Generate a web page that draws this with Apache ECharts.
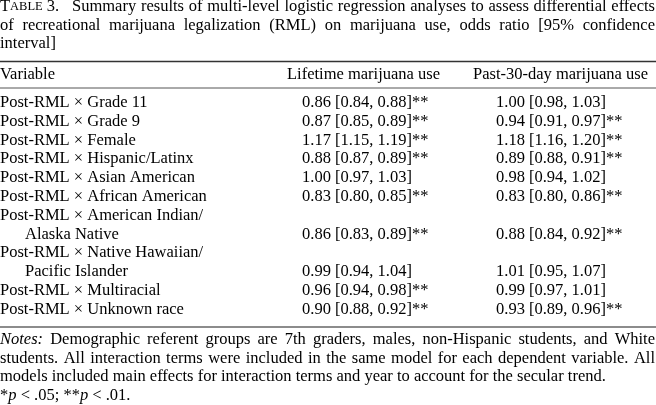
<!DOCTYPE html>
<html>
<head>
<meta charset="utf-8">
<title>Table 3</title>
<script src="https://cdn.jsdelivr.net/npm/echarts@6/dist/echarts.min.js"></script>
<style>
    html, body { margin: 0; padding: 0; background: #fff; }
    #main { width: 656px; height: 405px; }
</style>
</head>
<body>
<div id="main"></div>
<script>
// row labels (a second entry is the indented continuation line)
var variables = [
    ['Post-RML × Grade 11'],
    ['Post-RML × Grade 9'],
    ['Post-RML × Female'],
    ['Post-RML × Hispanic/Latinx'],
    ['Post-RML × Asian American'],
    ['Post-RML × African American'],
    ['Post-RML × American Indian/', 'Alaska Native'],
    ['Post-RML × Native Hawaiian/', 'Pacific Islander'],
    ['Post-RML × Multiracial'],
    ['Post-RML × Unknown race']
];
var columns = ['Variable', 'Lifetime marijuana use', 'Past-30-day marijuana use'];

var lifetimeOR  = [0.86, 0.87, 1.17, 0.88, 1.00, 0.83, 0.86, 0.99, 0.96, 0.90];
var lifetimeLo  = [0.84, 0.85, 1.15, 0.87, 0.97, 0.80, 0.83, 0.94, 0.94, 0.88];
var lifetimeHi  = [0.88, 0.89, 1.19, 0.89, 1.03, 0.85, 0.89, 1.04, 0.98, 0.92];
var lifetimeSig = ['**', '**', '**', '**', '', '**', '**', '', '**', '**'];

var past30OR  = [1.00, 0.94, 1.18, 0.89, 0.98, 0.83, 0.88, 1.01, 0.99, 0.93];
var past30Lo  = [0.98, 0.91, 1.16, 0.88, 0.94, 0.80, 0.84, 0.95, 0.97, 0.89];
var past30Hi  = [1.03, 0.97, 1.20, 0.91, 1.02, 0.86, 0.92, 1.07, 1.01, 0.96];
var past30Sig = ['', '**', '**', '**', '', '**', '**', '', '', '**'];

var titleLines = [
    'Summary results of multi-level logistic regression analyses to assess differential effects',
    'of recreational marijuana legalization (RML) on marijuana use, odds ratio [95% confidence',
    'interval]'
];
var noteLines = [
    '{i|Notes:} Demographic referent groups are 7th graders, males, non-Hispanic students, and White',
    'students. All interaction terms were included in the same model for each dependent variable. All',
    'models included main effects for interaction terms and year to account for the secular trend.',
    '*{i|p} < .05; **{i|p} < .01.'
];

var FAMILY = 'Liberation Serif';
var FS = 16.5;
var INK = '#000';
var W = 656;

var rich = {
    n: { fontFamily: FAMILY, fontSize: FS, fill: INK },
    i: { fontFamily: FAMILY, fontSize: FS, fontStyle: 'italic', fill: INK },
    sc: { fontFamily: FAMILY, fontSize: 12.5, fill: INK }
};

var ctx = document.createElement('canvas').getContext('2d');
function measure(word) {
    var m = word.match(/^\{i\|(.*)\}$/);
    ctx.font = (m ? 'italic ' : '') + FS + 'px "' + FAMILY + '"';
    return ctx.measureText(m ? m[1] : word).width;
}

function textEl(str, x, y) {
    return {
        type: 'text', x: x, y: y, silent: true,
        style: {
            text: str, rich: rich,
            fontFamily: FAMILY, fontSize: FS, fill: INK,
            align: 'left', verticalAlign: 'middle'
        }
    };
}

// spread the words of one line between x0 and x1
function justify(line, x0, x1, y, out) {
    var words = line.split(' ');
    var widths = words.map(measure);
    var total = widths.reduce(function (a, b) { return a + b; }, 0);
    var gap = (x1 - x0 - total) / (words.length - 1);
    var x = x0;
    words.forEach(function (w, k) {
        out.push(textEl(w, x, y));
        x += widths[k] + gap;
    });
}

function cell(or, lo, hi, sig) {
    return or.toFixed(2) + ' [' + lo.toFixed(2) + ', ' + hi.toFixed(2) + ']' + sig;
}

function hline(y, w, color) {
    return {
        type: 'line', silent: true,
        shape: { x1: 0, y1: y, x2: W, y2: y },
        style: { stroke: color, lineWidth: w }
    };
}

var els = [];

// caption
els.push(textEl('T{sc|ABLE} 3.', 0, 6.8));
justify(titleLines[0], 72, 655, 6.8, els);
justify(titleLines[1], 0, 655, 25.3, els);
els.push(textEl(titleLines[2], 0, 43.8));

// rules
els.push(hline(61.5, 1.5, '#333'));
els.push(hline(88, 1, '#555'));
els.push(hline(327, 1.5, '#666'));

// header
els.push(textEl(columns[0], 0, 75));
els.push(textEl(columns[1], 287, 75));
els.push(textEl(columns[2], 473, 75));

// body
var rowY = 102.6, step = 18.8;
variables.forEach(function (lab, r) {
    lab.forEach(function (part, k) {
        els.push(textEl(part, k ? 25 : 0, rowY));
        if (k < lab.length - 1) rowY += step;
    });
    els.push(textEl(cell(lifetimeOR[r], lifetimeLo[r], lifetimeHi[r], lifetimeSig[r]), 302, rowY));
    els.push(textEl(cell(past30OR[r], past30Lo[r], past30Hi[r], past30Sig[r]), 496, rowY));
    rowY += step;
});

// notes
var noteY = [339.8, 358.3, 376.8, 395.3];
justify(noteLines[0], 0, 655, noteY[0], els);
justify(noteLines[1], 0, 655, noteY[1], els);
els.push(textEl(noteLines[2], 0, noteY[2]));
els.push(textEl(noteLines[3], 0, noteY[3]));

var myChart = echarts.init(document.getElementById('main'));
myChart.setOption({
    backgroundColor: '#fff',
    animation: false,
    graphic: { elements: els }
});
</script>
</body>
</html>
